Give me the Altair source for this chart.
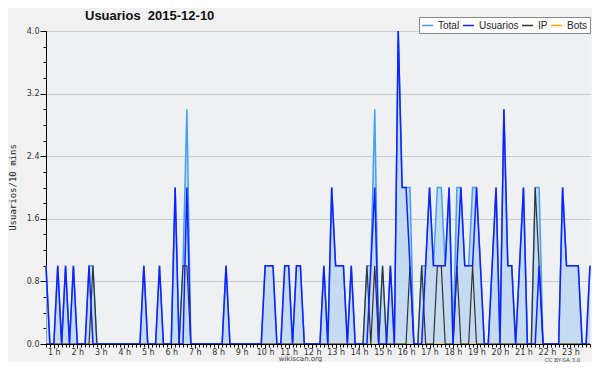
import altair as alt
import pandas as pd

# 10-minute slots shown: slot 4 (00:40) .. slot 143 (23:50)
first_slot = 4

series_names = ["Total", "Usuarios", "IP", "Bots"]
series_colors = ["#42a0f2", "#1020ff", "#333333", "#ffa500"]

total = [
    1, 0,                 # 00h40-00h50
    0, 1, 0, 1, 0, 1,     # 01h
    0, 0, 0, 1, 1, 0,     # 02h
    0, 0, 0, 0, 0, 0,     # 03h
    0, 0, 0, 0, 0, 1,     # 04h
    0, 0, 0, 1, 0, 0,     # 05h
    0, 2, 0, 1, 3, 0,     # 06h
    0, 0, 0, 0, 0, 0,     # 07h
    0, 0, 1, 0, 0, 0,     # 08h
    0, 0, 0, 0, 0, 0,     # 09h
    1, 1, 1, 0, 0, 1,     # 10h
    1, 0, 1, 1, 0, 0,     # 11h
    0, 0, 0, 1, 0, 2,     # 12h
    1, 1, 1, 0, 1, 0,     # 13h
    0, 0, 1, 1, 3, 0,     # 14h
    1, 0, 1, 0, 4, 2,     # 15h
    2, 2, 0, 0, 1, 1,     # 16h
    2, 1, 2, 2, 1, 2,     # 17h
    0, 2, 2, 1, 1, 2,     # 18h
    2, 1, 0, 0, 1, 2,     # 19h
    0, 3, 1, 1, 0, 1,     # 20h
    2, 0, 0, 2, 2, 0,     # 21h
    0, 0, 0, 0, 2, 1,     # 22h
    1, 1, 1, 0, 0, 1,     # 23h
]

usuarios = [
    1, 0,
    0, 1, 0, 1, 0, 1,
    0, 0, 0, 1, 0, 0,
    0, 0, 0, 0, 0, 0,
    0, 0, 0, 0, 0, 1,
    0, 0, 0, 1, 0, 0,
    0, 2, 0, 0, 2, 0,
    0, 0, 0, 0, 0, 0,
    0, 0, 1, 0, 0, 0,
    0, 0, 0, 0, 0, 0,
    1, 1, 1, 0, 0, 1,
    1, 0, 1, 1, 0, 0,
    0, 0, 0, 1, 0, 2,
    1, 1, 1, 0, 1, 0,
    0, 0, 0, 1, 2, 0,
    0, 0, 1, 0, 4, 2,
    2, 1, 0, 0, 0, 1,
    2, 1, 1, 1, 1, 2,
    0, 1, 2, 1, 1, 1,
    2, 1, 0, 0, 1, 2,
    0, 3, 1, 1, 0, 1,
    2, 0, 0, 0, 1, 0,
    0, 0, 0, 0, 2, 1,
    1, 1, 1, 0, 0, 1,
]

ip = [
    0, 0,
    0, 0, 0, 0, 0, 0,
    0, 0, 0, 0, 1, 0,
    0, 0, 0, 0, 0, 0,
    0, 0, 0, 0, 0, 0,
    0, 0, 0, 0, 0, 0,
    0, 0, 0, 1, 1, 0,
    0, 0, 0, 0, 0, 0,
    0, 0, 0, 0, 0, 0,
    0, 0, 0, 0, 0, 0,
    0, 0, 0, 0, 0, 0,
    0, 0, 0, 0, 0, 0,
    0, 0, 0, 0, 0, 0,
    0, 0, 0, 0, 0, 0,
    0, 0, 1, 0, 1, 0,
    1, 0, 0, 0, 0, 0,
    0, 1, 0, 0, 1, 0,
    0, 0, 1, 1, 0, 0,
    0, 1, 0, 0, 0, 1,
    0, 0, 0, 0, 0, 0,
    0, 0, 0, 0, 0, 0,
    0, 0, 0, 2, 1, 0,
    0, 0, 0, 0, 0, 0,
    0, 0, 0, 0, 0, 0,
]

bots = [0] * len(total)

y_major = [0, 0.8, 1.6, 2.4, 3.2, 4.0]
y_minor = [round(0.2 * k, 1) for k in range(21)]
hour_ticks = list(range(1, 24))

hours = [(first_slot + k) / 6 for k in range(len(total))]
minor_x = hours

rows = []
for name, vals in zip(series_names, [total, usuarios, ip, bots]):
    for h, v in zip(hours, vals):
        rows.append({"h": h, "v": v, "serie": name})
long_df = pd.DataFrame(rows)
area_df = pd.DataFrame({"h": hours, "v": total})

x_scale = alt.Scale(domain=[hours[0], hours[-1]], nice=False, zero=False)
y_scale = alt.Scale(domain=[0, 4], nice=False)
color_scale = alt.Scale(domain=series_names, range=series_colors)

tick_font = "DejaVu Sans"

x_minor_axis = alt.Axis(values=minor_x, labels=False, tickSize=3, grid=False,
                        domainColor="black", tickColor="black", orient="bottom",
                        zindex=1, title="CC BY-SA 3.0", titleFont=tick_font,
                        titleFontSize=5.5, titleFontWeight="normal", titleColor="#444",
                        titleX=516, titleY=17, titleBaseline="alphabetic")
y_minor_axis = alt.Axis(values=y_minor, labels=False, tickSize=3, grid=False,
                        domain=False, tickColor="black", orient="left", title=None)

x_major_axis = alt.Axis(values=hour_ticks, labelExpr="datum.value + ' h'",
                        tickSize=4, grid=False, domainColor="black", tickColor="black",
                        orient="bottom", zindex=1, labelFont=tick_font, labelFontSize=8,
                        labelColor="#333", labelPadding=0, labelOverlap=False,
                        title="wikiscan.org", titleFont=tick_font, titleFontSize=7,
                        titleFontWeight="normal", titleColor="#444",
                        titleX=254, titleY=16.5, titleBaseline="alphabetic")
y_major_axis = alt.Axis(values=y_major, format=".1f", tickSize=6, grid=True,
                        gridColor="#cccccc", gridWidth=1, domainColor="black",
                        tickColor="black", orient="left", labelFont=tick_font,
                        labelFontSize=8, labelColor="#333", labelPadding=1,
                        title="Usuarios/10 mins", titleFont="DejaVu Sans Mono",
                        titleFontSize=9, titleFontWeight="normal", titleColor="#222",
                        titleAngle=270, titleX=-34, titleY=156, titleAlign="center",
                        titleBaseline="middle")

legend = alt.Legend(orient="none", legendX=373, legendY=-14, direction="horizontal",
                    columns=4, gridAlign="none", title=None, symbolType="stroke",
                    symbolSize=121, symbolStrokeWidth=1.5, labelFont="Liberation Sans",
                    labelFontSize=10, labelColor="#222", fillColor="white",
                    strokeColor="#888", padding=2, columnPadding=0, labelOffset=4)

area = alt.Chart(area_df).mark_area(color="#b9d6f0", opacity=0.8).encode(
    x=alt.X("h:Q", scale=x_scale, axis=x_minor_axis),
    y=alt.Y("v:Q", scale=y_scale, axis=y_minor_axis),
)

def line_layer(name, width, axes):
    xa, ya = axes
    return alt.Chart(long_df).transform_filter(alt.datum.serie == name).mark_line(
        strokeWidth=width, interpolate="linear").encode(
        x=alt.X("h:Q", scale=x_scale, axis=xa),
        y=alt.Y("v:Q", scale=y_scale, axis=ya),
        color=alt.Color("serie:N", scale=color_scale, legend=legend),
    )

bots_l = line_layer("Bots", 1, (None, None))
total_l = line_layer("Total", 1.5, (x_major_axis, y_major_axis))
ip_l = line_layer("IP", 1.2, (None, None))
usr_l = line_layer("Usuarios", 1.5, (None, None))

chart = alt.layer(area, bots_l, total_l, ip_l, usr_l).resolve_axis(
    x="independent", y="independent"
).properties(
    width=544, height=313, autosize="none",
    padding={"left": 38, "top": 23, "right": 2, "bottom": 18},
    background="#f1f1f1",
    title=alt.TitleParams("Usuarios\u00a0 2015-12-10", anchor="start", frame="group",
                          dx=39, dy=14, font="Liberation Sans", fontSize=13,
                          fontWeight="bold", color="#111", offset=8),
).configure_view(fill="#eef0f2", strokeWidth=0)

chart.save("out.html", embed_options={"renderer": "svg", "actions": False})
